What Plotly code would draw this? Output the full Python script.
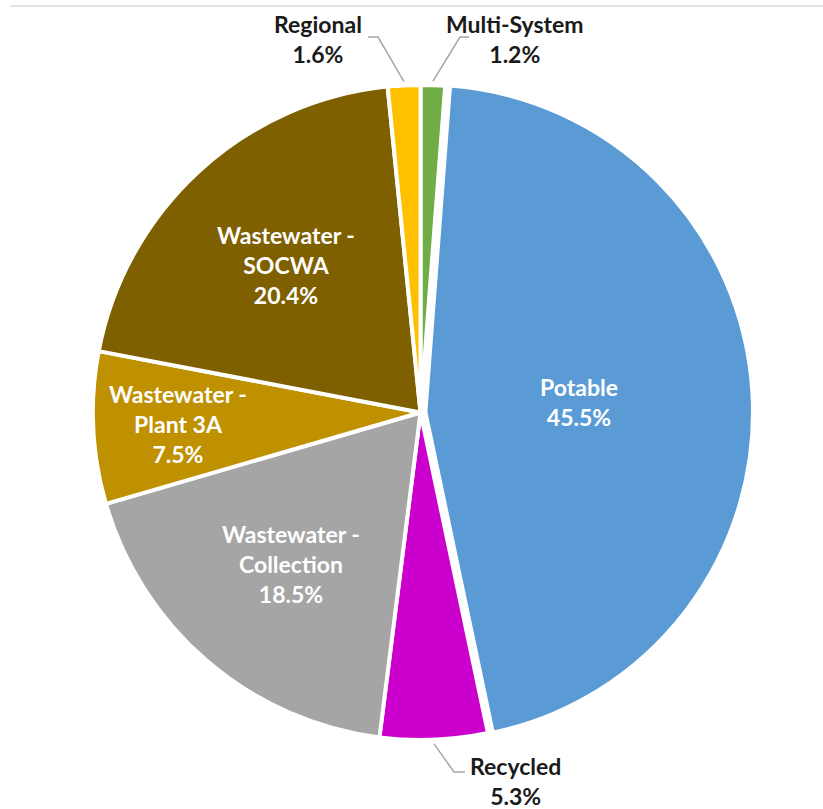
import math
import plotly.graph_objects as go

# Share of budget by system (percent), clockwise from 12 o'clock
categories = [
    "Multi-System",
    "Potable",
    "Recycled",
    "Wastewater - Collection",
    "Wastewater - Plant 3A",
    "Wastewater - SOCWA",
    "Regional",
]
shares = [1.2, 45.5, 5.3, 18.5, 7.5, 20.4, 1.6]
# the span splits the tspan so Lato does not form its "ti" ligature
label_lines = [
    ["Multi-System"],
    ["Potable"],
    ["Recycled"],
    ["Wastewater -", "Collec<span>t</span>ion"],
    ["Wastewater -", "Plant 3A"],
    ["Wastewater -", "SOCWA"],
    ["Regional"],
]
colors = ["#70AD47", "#5B9BD5", "#CC00CC", "#A5A5A5", "#BF9000", "#7F6000", "#FFC000"]

W, H = 823, 809
FONT = "Lato"
FS = 23

# pie geometry (pixels)
CX, CY = 420.5, 412.5
PULL = 0.015
DOM = 665
R = DOM / (2 + 2 * PULL)
pulls = [0, PULL, 0, 0, 0, 0, 0]

# inside labels: radial fraction of the radius for each slice
inside_frac = {1: 0.47, 3: 0.61, 4: 0.74, 5: 0.61}
# outside labels: text centre, leader elbow and leader end (pixels)
outside = {
    0: dict(text=(515, 39), elbow=(460, 37), end=(469, 37)),
    6: dict(text=(318, 39), elbow=(378, 37), end=(368, 37)),
    2: dict(text=(515, 781), elbow=(454, 772), end=(465, 772)),
}


def px(x):
    return x / W


def py(y):
    return 1 - y / H


fig = go.Figure(
    go.Pie(
        labels=categories,
        values=shares,
        sort=False,
        direction="clockwise",
        rotation=0,
        pull=pulls,
        marker=dict(colors=colors, line=dict(color="white", width=4)),
        textinfo="none",
        hoverinfo="label+percent",
        showlegend=False,
        domain=dict(
            x=[px(CX - DOM / 2), px(CX + DOM / 2)],
            y=[py(CY + DOM / 2), py(CY - DOM / 2)],
        ),
    )
)

annotations = []
shapes = []
total = sum(shares)
cum = 0.0
for i, v in enumerate(shares):
    mid = (cum + v / 2) / total * 2 * math.pi
    cum += v
    sx, sy = math.sin(mid), -math.cos(mid)
    text = "<br>".join(label_lines[i] + [f"{v:.1f}%"])
    if i in inside_frac:
        f = inside_frac[i] + pulls[i]
        annotations.append(dict(
            x=px(CX + f * R * sx), y=py(CY + f * R * sy),
            xref="paper", yref="paper", text=text, showarrow=False,
            xanchor="center", yanchor="middle", align="center",
            font=dict(family=FONT, size=FS, color="white", weight="bold"),
        ))
    else:
        o = outside[i]
        tx, ty = o["text"]
        annotations.append(dict(
            x=px(tx), y=py(ty), xref="paper", yref="paper", text=text,
            showarrow=False, xanchor="center", yanchor="middle", align="center",
            font=dict(family=FONT, size=FS, color="#1a1a1a", weight="bold"),
        ))
        x0, y0 = CX + (R + 4) * sx, CY + (R + 4) * sy
        (ex, ey), (fx, fy) = o["elbow"], o["end"]
        shapes.append(dict(
            type="path", xref="paper", yref="paper",
            path=f"M {px(x0)},{py(y0)} L {px(ex)},{py(ey)} L {px(fx)},{py(fy)}",
            line=dict(color="#A6A6A6", width=1.5),
        ))

# thin rule along the top of the chart area
shapes.append(dict(type="line", xref="paper", yref="paper",
                   x0=px(10), x1=1, y0=py(6), y1=py(6),
                   line=dict(color="#D9D9D9", width=1.5)))

fig.update_layout(
    width=W, height=H,
    margin=dict(l=0, r=0, t=0, b=0),
    paper_bgcolor="white", plot_bgcolor="white",
    annotations=annotations, shapes=shapes,
)

fig.write_html("out.html")
